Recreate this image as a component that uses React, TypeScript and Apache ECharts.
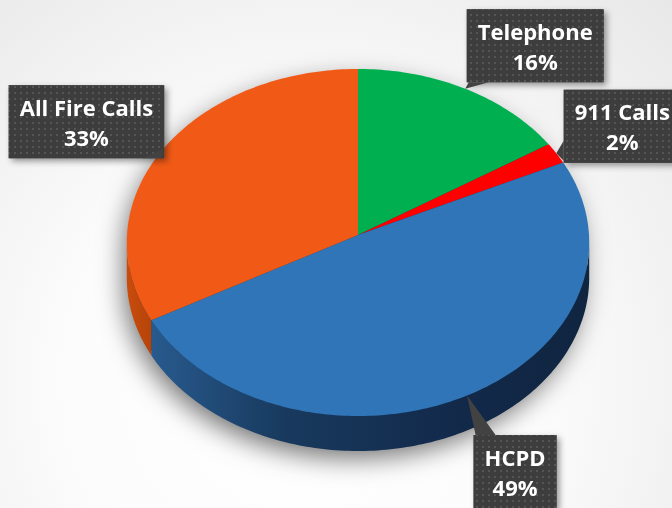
import { useEffect, useRef } from 'react';
import * as echarts from 'echarts';

const categories = ['Telephone', '911 Calls', 'HCPD', 'All Fire Calls'];
const values = [16, 2, 49, 33];

const topColors = ['#00B050', '#FF0000', '#2F75B7', '#F15A16'];
const sideStops = [
  [['#008a3e', 0], ['#006a2f', 1]],
  [['#c00000', 0], ['#900000', 1]],
  [['#285a8e', 0], ['#183a5e', 0.3], ['#12294a', 0.7], ['#0f2540', 1]],
  [['#c94c0c', 0], ['#b54409', 1]],
];
// label box centre offsets from the slice's rim anchor
const labelOffsets = [
  [70, -43],
  [66, -27],
  [48, 76],
  [-77, -27],
];

const HX = 358;
const HY = 235;
const R = 231;
const C = 173.2;
const K = 0.0432;
const DEPTH = 35;
const FONT = 'bold 22px "Open Sans"';
const LINE_H = 30;
const PAD_X = 11;
const PAD_Y = 6.5;

const total = values.reduce((s, v) => s + v, 0);
const starts: number[] = [];
const ends: number[] = [];
{
  let acc = 0;
  values.forEach((v) => {
    starts.push((acc / total) * 360);
    acc += v;
    ends.push((acc / total) * 360);
  });
}
const TL = (Math.acos(-K) * 180) / Math.PI;
const TR = 360 - TL;

function project(deg: number, dy = 0, scale = 1): number[] {
  const t = (deg * Math.PI) / 180;
  const u = Math.sin(t) * scale;
  const v = -Math.cos(t) * scale;
  const d = 1 - K * v;
  return [HX + (R * u) / d, HY + (C * v) / d + dy];
}

function arc(a: number, b: number, dy = 0, scale = 1): number[][] {
  const n = Math.max(2, Math.ceil(Math.abs(b - a)));
  const pts: number[][] = [];
  for (let j = 0; j <= n; j++) pts.push(project(a + ((b - a) * j) / n, dy, scale));
  return pts;
}

function labelText(i: number) {
  return categories[i] + '\n' + Math.round((values[i] / total) * 100) + '%';
}

export default function App() {
  const ref = useRef<HTMLDivElement>(null);
  useEffect(() => {
    if (!ref.current) return;
    const chart = echarts.init(ref.current, undefined, { renderer: 'svg' });

    const canvas = document.createElement('canvas');
    const ctx = canvas.getContext('2d')!;
    ctx.font = FONT;
    const boxW = categories.map((_, i) => {
      const lines = labelText(i).split('\n');
      return Math.max(...lines.map((l) => ctx.measureText(l).width)) + PAD_X * 2;
    });
    const boxH = LINE_H * 2 + PAD_Y * 2;

    // dotted texture for label boxes
    const pc = document.createElement('canvas');
    pc.width = 6;
    pc.height = 6;
    const pctx = pc.getContext('2d')!;
    pctx.fillStyle = '#3d3d3d';
    pctx.fillRect(0, 0, 6, 6);
    pctx.fillStyle = '#555555';
    pctx.fillRect(2, 2, 2, 2);
    const patternUrl = pc.toDataURL();
    const boxFill: any = { image: patternUrl, repeat: 'repeat' };

    const data = values.map((v, i) => ({ value: v, name: categories[i] }));

    const shadowSeries = {
      type: 'custom',
      coordinateSystem: 'none',
      silent: true,
      z: 1,
      data,
      renderItem: (params: any) => {
        if (params.dataIndex !== 0) return null;
        const pts = [...arc(TR, 360 + TL, 0, 0.99), ...arc(TL, TR, DEPTH - 1, 0.99)];
        return {
          type: 'polygon',
          shape: { points: pts },
          style: {
            fill: '#1a3555',
            shadowBlur: 26,
            shadowOffsetX: -5,
            shadowOffsetY: 10,
            shadowColor: 'rgba(0,0,0,0.55)',
          },
        };
      },
    };

    const pieSeries = {
      type: 'custom',
      coordinateSystem: 'none',
      silent: true,
      z: 2,
      data,
      renderItem: (params: any) => {
        const i = params.dataIndex;
        const a = starts[i];
        const b = ends[i];
        const children: any[] = [];
        const s = Math.max(a, TL);
        const e = Math.min(b, TR);
        if (e > s) {
          const pts = [...arc(s, e), ...arc(e, s, DEPTH)];
          children.push({
            type: 'polygon',
            shape: { points: pts },
            style: {
              fill: new echarts.graphic.LinearGradient(
                0,
                0,
                1,
                0,
                sideStops[i].map(([c, o]) => ({ offset: o as number, color: c as string }))
              ),
            },
          });
        }
        children.push({
          type: 'polygon',
          shape: { points: [[HX, HY], ...arc(a, b)] },
          style: { fill: topColors[i] },
        });
        return { type: 'group', children };
      },
    };

    const labelSeries = {
      type: 'custom',
      coordinateSystem: 'none',
      silent: true,
      z: 3,
      data,
      renderItem: (params: any) => {
        const i = params.dataIndex;
        const mid = (starts[i] + ends[i]) / 2;
        const [ax, ay] = project(mid);
        const cx = ax + labelOffsets[i][0];
        const cy = ay + labelOffsets[i][1];
        const w = boxW[i];
        const h = boxH;
        const x0 = cx - w / 2;
        const y0 = cy - h / 2;
        const x1 = x0 + w;
        const y1 = y0 + h;
        const dxOut = ax < x0 ? x0 - ax : ax > x1 ? ax - x1 : 0;
        const dyOut = ay < y0 ? y0 - ay : ay > y1 ? ay - y1 : 0;
        let base: number[][];
        if (dyOut >= dxOut) {
          const ey = ay < cy ? y0 : y1;
          const bx = Math.min(Math.max(ax, x0 + 12), x1 - 12);
          base = [
            [bx - 10, ey],
            [bx + 10, ey],
          ];
        } else {
          const ex = ax < cx ? x0 : x1;
          const by = Math.min(Math.max(ay, y0 + 12), y1 - 12);
          base = [
            [ex, by - 10],
            [ex, by + 10],
          ];
        }
        return {
          type: 'group',
          children: [
            {
              type: 'rect',
              shape: { x: x0, y: y0, width: w, height: h },
              style: {
                fill: '#424242',
                shadowBlur: 6,
                shadowOffsetX: 3,
                shadowOffsetY: 3,
                shadowColor: 'rgba(0,0,0,0.4)',
              },
            },
            {
              type: 'rect',
              shape: { x: x0, y: y0, width: w, height: h },
              style: { fill: boxFill },
            },
            {
              type: 'polygon',
              shape: { points: [...base, [ax, ay]] },
              style: { fill: '#424242' },
            },
            {
              type: 'text',
              style: {
                text: labelText(i),
                x: cx,
                y: cy,
                align: 'center',
                verticalAlign: 'middle',
                font: FONT,
                lineHeight: LINE_H,
                fill: '#ffffff',
              },
            },
          ],
        };
      },
    };

    chart.setOption({
      animation: false,
      series: [shadowSeries, pieSeries, labelSeries],
    });
    return () => chart.dispose();
  }, []);

  return (
    <div
      ref={ref}
      style={{
        position: 'fixed',
        left: 0,
        top: 0,
        width: 672,
        height: 508,
        background:
          'radial-gradient(ellipse at 45% 75%, #ffffff 0%, #fcfcfc 45%, #e8e8e8 100%)',
      }}
    />
  );
}
